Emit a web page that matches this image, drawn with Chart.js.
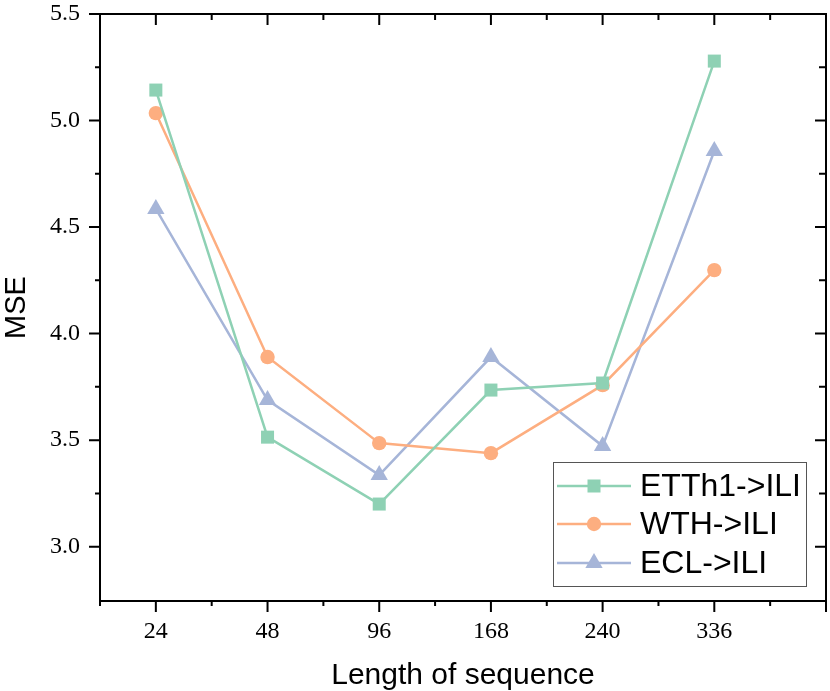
<!DOCTYPE html>
<html>
<head>
<meta charset="utf-8">
<script src="https://cdn.jsdelivr.net/npm/chart.js@4.4.0/dist/chart.umd.min.js"></script>
<style>
  html, body { margin: 0; padding: 0; background: #fff; }
  #wrap { width: 830px; height: 691px; }
</style>
</head>
<body>
<div id="wrap"><canvas id="chart" width="830" height="691"></canvas></div>
<script>
// sequence lengths on the x axis
const categories = ['24', '48', '96', '168', '240', '336'];

// MSE per transfer setting
const etth1Values = [5.143, 3.514, 3.200, 3.735, 3.768, 5.279];
const wthValues = [5.035, 3.890, 3.486, 3.439, 3.758, 4.298];
const eclValues = [4.585, 3.688, 3.336, 3.890, 3.472, 4.857];

const seriesLabels = ['ETTh1->ILI', 'WTH->ILI', 'ECL->ILI'];
const yTickLabels = [3.0, 3.5, 4.0, 4.5, 5.0, 5.5];

const colors = ['#8ed1b4', '#fdae80', '#a6b5d8'];
const markers = ['rect', 'circle', 'triangle'];
const markerRadius = [9.2, 7.2, 10];

const X_MIN = -0.5, X_MAX = 6, Y_MIN = 2.745, Y_MAX = 5.5;
const TICK_FONT = { family: 'Liberation Serif', size: 24 };

function toPoints(values) {
  return values.map((v, i) => ({ x: i, y: v }));
}

const datasets = [etth1Values, wthValues, eclValues].map((values, i) => ({
  label: seriesLabels[i],
  data: toPoints(values),
  borderColor: colors[i],
  backgroundColor: colors[i],
  borderWidth: 2.5,
  pointStyle: markers[i],
  pointRadius: markerRadius[i],
  pointHoverRadius: markerRadius[i],
  pointBorderWidth: 0,
  tension: 0,
}));

function halfSteps(min, max) {
  const out = [];
  for (let v = Math.ceil(min * 2) / 2; v <= max + 1e-9; v += 0.5) out.push(Math.round(v * 2) / 2);
  return out;
}

function quarterSteps(min, max) {
  const out = [];
  for (let v = Math.ceil(min * 4) / 4; v <= max + 1e-9; v += 0.25) out.push(Math.round(v * 4) / 4);
  return out;
}

function drawMarker(ctx, style, x, y, r) {
  ctx.beginPath();
  if (style === 'rect') {
    const s = Math.SQRT1_2 * r;
    ctx.rect(x - s, y - s, 2 * s, 2 * s);
  } else if (style === 'circle') {
    ctx.arc(x, y, r, 0, Math.PI * 2);
  } else {
    let rad = 0;
    ctx.moveTo(x + Math.sin(rad) * r, y - Math.cos(rad) * r);
    rad += 2 * Math.PI / 3;
    ctx.lineTo(x + Math.sin(rad) * r, y - Math.cos(rad) * r);
    rad += 2 * Math.PI / 3;
    ctx.lineTo(x + Math.sin(rad) * r, y - Math.cos(rad) * r);
    ctx.closePath();
  }
  ctx.fill();
}

function noPadding(scale) {
  scale.paddingTop = 0;
  scale.paddingBottom = 0;
  scale.paddingLeft = 0;
  scale.paddingRight = 0;
}

const framePlugin = {
  id: 'frame',
  afterDatasetsDraw(chart) {
    const { ctx, chartArea: a, scales: { x, y } } = chart;
    ctx.save();
    ctx.strokeStyle = '#000';
    ctx.lineWidth = 2;
    ctx.lineCap = 'square';

    ctx.beginPath();
    ctx.moveTo(a.left, a.top);
    ctx.lineTo(a.right, a.top);
    ctx.lineTo(a.right, a.bottom);
    ctx.moveTo(a.left, a.top);
    ctx.lineTo(a.left, a.bottom);
    ctx.lineTo(a.right, a.bottom);
    ctx.stroke();

    ctx.lineCap = 'butt';
    ctx.beginPath();
    halfSteps(X_MIN, X_MAX).forEach((v) => {
      const px = x.getPixelForValue(v);
      const major = Number.isInteger(v);
      ctx.moveTo(px, a.bottom);
      ctx.lineTo(px, a.bottom + (major ? 11 : 5));
      ctx.moveTo(px, a.top);
      ctx.lineTo(px, a.top + (major ? 11 : 6));
    });
    quarterSteps(Y_MIN, Y_MAX).forEach((v) => {
      if (v < 2.9) return;
      const py = y.getPixelForValue(v);
      const major = Math.abs(v * 2 - Math.round(v * 2)) < 1e-6;
      ctx.moveTo(a.left, py);
      ctx.lineTo(a.left - (major ? 11 : 5), py);
      ctx.moveTo(a.right, py);
      ctx.lineTo(a.right - (major ? 11 : 7), py);
    });
    ctx.stroke();

    // legend box
    const box = { left: 553, top: 462, width: 253, height: 124 };
    ctx.fillStyle = '#fff';
    ctx.fillRect(box.left, box.top, box.width, box.height);
    ctx.strokeStyle = '#555';
    ctx.lineWidth = 1;
    ctx.strokeRect(box.left + 0.5, box.top + 0.5, box.width, box.height);

    const rows = [486, 524, 563];
    chart.data.datasets.forEach((ds, i) => {
      const ry = rows[i];
      ctx.strokeStyle = ds.borderColor;
      ctx.lineWidth = 2.5;
      ctx.beginPath();
      ctx.moveTo(557, ry);
      ctx.lineTo(631, ry);
      ctx.stroke();
      ctx.fillStyle = ds.backgroundColor;
      drawMarker(ctx, ds.pointStyle, 594, ry, ds.pointRadius);
      ctx.fillStyle = '#000';
      ctx.font = '32px "Liberation Sans"';
      ctx.textBaseline = 'middle';
      ctx.textAlign = 'left';
      ctx.fillText(ds.label, 640, ry + 1);
    });
    ctx.restore();
  },
};

new Chart(document.getElementById('chart'), {
  type: 'line',
  data: { datasets },
  plugins: [framePlugin],
  options: {
    responsive: false,
    animation: false,
    events: [],
    layout: { autoPadding: false, padding: { left: 0, top: 14, right: 4, bottom: 0 } },
    plugins: {
      legend: { display: false },
      tooltip: { enabled: false },
    },
    scales: {
      x: {
        type: 'linear',
        min: X_MIN,
        max: X_MAX,
        afterBuildTicks: (scale) => {
          scale.ticks = halfSteps(X_MIN, X_MAX).map((v) => ({ value: v }));
        },
        afterFit: (scale) => { scale.height = 90; noPadding(scale); },
        grid: { display: false, drawTicks: false },
        border: { display: false },
        ticks: {
          autoSkip: false,
          maxRotation: 0,
          padding: 16,
          color: '#000',
          font: TICK_FONT,
          callback: (v) => (Number.isInteger(v) && categories[v] !== undefined ? categories[v] : ''),
        },
        title: {
          display: true,
          text: 'Length of sequence',
          color: '#000',
          font: { family: 'Liberation Sans', size: 30, lineHeight: 0.8 },
          padding: { top: 0, bottom: 3 },
        },
      },
      y: {
        type: 'linear',
        min: Y_MIN,
        max: Y_MAX,
        afterBuildTicks: (scale) => {
          scale.ticks = yTickLabels.map((v) => ({ value: v }));
        },
        afterFit: (scale) => { scale.width = 100; noPadding(scale); },
        grid: { display: false, drawTicks: false },
        border: { display: false },
        ticks: {
          padding: 20,
          color: '#000',
          font: TICK_FONT,
          callback: (v) => v.toFixed(1),
        },
        title: {
          display: true,
          text: 'MSE',
          color: '#000',
          font: { family: 'Liberation Sans', size: 29, lineHeight: 1 },
          padding: { top: 2, bottom: 0 },
        },
      },
    },
  },
});
</script>
</body>
</html>
